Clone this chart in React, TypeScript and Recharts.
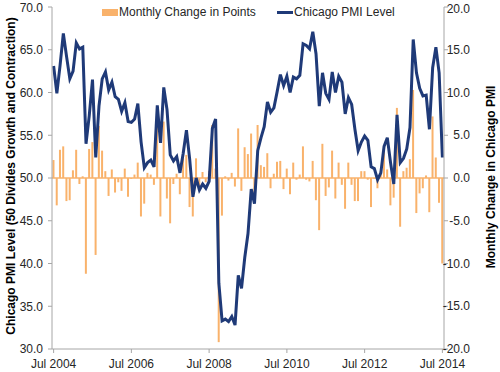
import { ComposedChart, Bar, Line, XAxis, YAxis, ReferenceLine } from 'recharts';

const MONTH_NAMES = ['Jan', 'Feb', 'Mar', 'Apr', 'May', 'Jun', 'Jul', 'Aug', 'Sep', 'Oct', 'Nov', 'Dec'];
const START_YEAR = 2004;
const START_MONTH = 6; // Jul

// Chicago PMI level, Jul 2004 .. Jul 2014 (left axis)
const PMI_LEVEL = [
  63.1, 59.9, 63.2, 66.9, 64.2, 61.6, 62.5, 65.8, 65.1, 65.3, 54.0, 57.3,
  61.5, 52.4, 58.4, 61.6, 62.4, 60.3, 61.2, 59.5, 59.2, 57.8, 58.8, 56.6,
  56.5, 56.9, 58.7, 54.2, 51.2, 51.8, 52.1, 51.3, 58.5, 54.1, 60.6, 58.0,
  52.7, 52.0, 52.5, 50.6, 52.9, 55.6, 52.2, 47.8, 50.0, 48.6, 49.3, 48.8,
  49.6, 55.8, 56.9, 37.7, 33.3, 33.5, 33.2, 33.8, 32.8, 38.6, 37.1, 40.7,
  43.5, 48.7, 47.0, 53.2, 54.7, 56.0, 58.9, 57.7, 58.2, 60.1, 62.1, 60.8,
  61.9, 60.0, 61.8, 61.6, 62.0, 65.7, 65.5, 65.1, 67.1, 64.5, 58.4, 62.3,
  59.9, 59.2, 62.4, 60.0, 61.9, 61.2, 57.5, 59.4, 58.6, 55.7, 53.2, 54.2,
  54.9, 54.4, 51.3, 51.1, 49.8, 50.6, 53.7, 54.7, 51.8, 49.3, 57.4, 51.8,
  52.3, 53.4, 55.9, 66.2, 62.3, 60.5, 59.6, 59.7, 55.7, 62.9, 65.3, 62.3,
  52.4,
];

// Monthly change in points (right axis)
const MONTHLY_CHANGE = [
  2.1, -3.2, 3.3, 3.7, -2.7, -2.6, 0.9, 3.3, -0.7, 0.2, -11.2, 3.4,
  4.2, -9.0, 6.1, 3.2, 0.8, -2.1, 1.0, -1.7, -0.5, -1.5, 1.1, -2.2,
  -0.1, 0.4, 1.8, -4.5, -3.0, 0.6, 0.4, -0.8, 6.6, -4.5, 6.6, -2.4,
  -5.3, -0.7, 0.5, -1.9, 2.3, 2.7, -3.4, -4.5, 2.3, -1.4, 0.7, -0.5,
  0.8, 6.2, 1.1, -19.2, -4.4, 0.2, -0.3, 0.6, -1.0, 5.8, -1.5, 3.6,
  2.8, 5.2, -1.7, 6.2, 1.5, 1.3, 2.9, -1.2, 0.5, 1.9, 2.0, -1.3,
  1.1, -1.9, 1.8, -0.2, 0.4, 3.7, -0.2, -0.4, 2.0, -2.6, -6.1, 4.0,
  -2.1, -1.1, 3.2, -2.4, 1.8, -0.8, -3.6, 1.8, -0.8, -2.7, -2.7, 0.8,
  0.8, -0.2, -3.4, -0.1, -1.2, 0.8, 3.1, 1.0, -3.2, -2.3, 8.2, -5.7,
  0.8, 1.2, 2.2, 10.3, -4.1, -1.8, -1.2, 0.3, -4.0, 7.2, 2.4, -2.9,
  -10.0,
];

const LEFT_TICKS = [30, 35, 40, 45, 50, 55, 60, 65, 70];
const RIGHT_TICKS = [-20, -15, -10, -5, 0, 5, 10, 15, 20];

const LEFT_TITLE = 'Chicago PMI Level (50 Divides Growth and Contraction)';
const RIGHT_TITLE = 'Monthly Change in Chicago PMI';
const BAR_LABEL = 'Monthly Change in Points';
const LINE_LABEL = 'Chicago PMI Level';

const BAR_COLOR = '#F9B26B';
const LINE_COLOR = '#1F3A78';
const AXIS_COLOR = '#A6A6A6';
const TEXT_COLOR = '#262626';

const data = PMI_LEVEL.map((level, i) => {
  const m = START_MONTH + i;
  return {
    month: `${MONTH_NAMES[m % 12]} ${START_YEAR + Math.floor(m / 12)}`,
    level,
    change: MONTHLY_CHANGE[i],
  };
});

const AxisTitle = ({ cx, cy, text }: { cx: number; cy: number; text: string }) => (
  <text
    transform={`translate(${cx},${cy}) rotate(-90)`}
    textAnchor="middle"
    dominantBaseline="central"
    fontSize={12}
    fontWeight="bold"
    fill="#000"
  >
    {text}
  </text>
);

const RightTick = (props: any) => {
  const { x, y, payload } = props;
  return (
    <text x={x + 20} y={y} textAnchor="end" dominantBaseline="central" fontSize={12} fill={TEXT_COLOR}>
      {Number(payload.value).toFixed(1)}
    </text>
  );
};

export default function App() {
  return (
    <div
      style={{
        position: 'absolute',
        left: 0,
        top: 0,
        width: 500,
        height: 372,
        background: '#fff',
        fontFamily: '"Liberation Sans", Arial, sans-serif',
      }}
    >
      <ComposedChart
        width={500}
        height={372}
        data={data}
        margin={{ top: 7, right: 0, bottom: 0, left: 0 }}
        barCategoryGap="15%"
      >
        <XAxis
          dataKey="month"
          interval={23}
          height={23}
          tickSize={4}
          tickMargin={6}
          axisLine={{ stroke: AXIS_COLOR }}
          tickLine={{ stroke: AXIS_COLOR }}
          tick={{ fontSize: 12, fill: TEXT_COLOR }}
        />
        <YAxis
          yAxisId="left"
          domain={[30, 70]}
          ticks={LEFT_TICKS}
          width={52}
          tickSize={4}
          tickMargin={5}
          axisLine={{ stroke: AXIS_COLOR }}
          tickLine={{ stroke: AXIS_COLOR }}
          tick={{ fontSize: 12, fill: TEXT_COLOR }}
          tickFormatter={(v: number) => v.toFixed(1)}
          label={<AxisTitle cx={11} cy={176} text={LEFT_TITLE} />}
        />
        <YAxis
          yAxisId="right"
          orientation="right"
          domain={[-20, 20]}
          ticks={RIGHT_TICKS}
          width={56}
          tickSize={4}
          axisLine={{ stroke: AXIS_COLOR }}
          tickLine={{ stroke: AXIS_COLOR }}
          tick={<RightTick />}
          label={<AxisTitle cx={491} cy={177} text={RIGHT_TITLE} />}
        />
        <ReferenceLine yAxisId="right" y={0} stroke={BAR_COLOR} strokeWidth={1.5} />
        <Bar yAxisId="right" dataKey="change" fill={BAR_COLOR} isAnimationActive={false} />
        <Line
          yAxisId="left"
          dataKey="level"
          stroke={LINE_COLOR}
          strokeWidth={3}
          dot={false}
          activeDot={false}
          isAnimationActive={false}
        />
      </ComposedChart>
      <div style={{ position: 'absolute', left: 102, top: 9, width: 16, height: 7, background: BAR_COLOR }} />
      <div style={{ position: 'absolute', left: 119, top: 5, fontSize: 12, lineHeight: '14px', color: TEXT_COLOR, whiteSpace: 'nowrap' }}>
        {BAR_LABEL}
      </div>
      <div style={{ position: 'absolute', left: 277, top: 11, width: 16, height: 3, background: LINE_COLOR }} />
      <div style={{ position: 'absolute', left: 294, top: 5, fontSize: 12, lineHeight: '14px', color: TEXT_COLOR, whiteSpace: 'nowrap' }}>
        {LINE_LABEL}
      </div>
    </div>
  );
}
